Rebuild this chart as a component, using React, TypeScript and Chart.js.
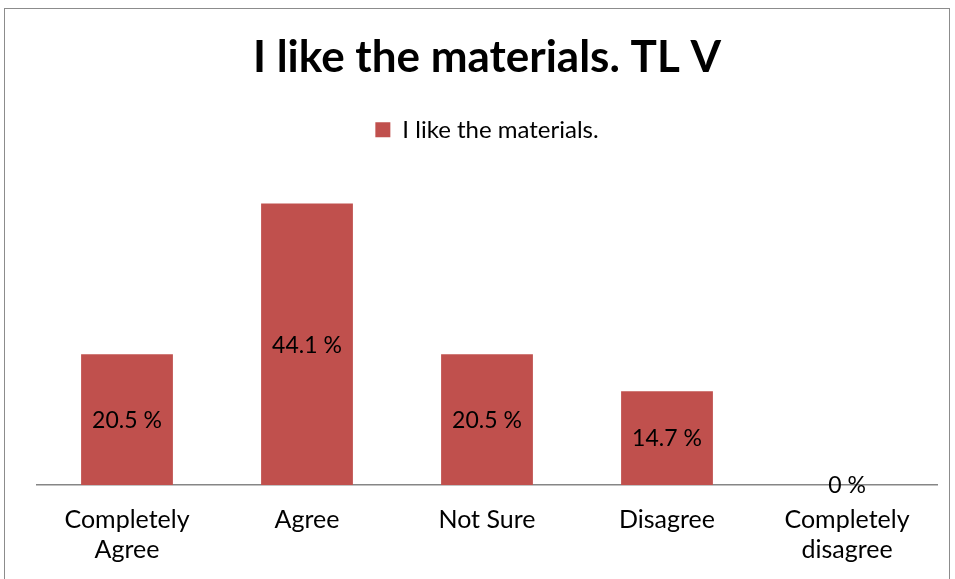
import React, { useEffect, useRef } from "react";
import { Chart, registerables } from "chart.js";
Chart.register(...registerables);

const categories: (string | string[])[] = [
  ["Completely", "Agree"],
  "Agree",
  "Not Sure",
  "Disagree",
  ["Completely", "disagree"],
];
const values = [20.5, 44.1, 20.5, 14.7, 0];
const valueLabels = ["20.5 %", "44.1 %", "20.5 %", "14.7 %", "0 %"];
const seriesName = "I like the materials.";
const chartTitle = "I like the materials. TL V";
const yMax = 50;

const FONT = "Lato, 'Open Sans', sans-serif";

const barLabels = {
  id: "barLabels",
  afterDatasetsDraw(chart: any) {
    const ctx = chart.ctx;
    const meta = chart.getDatasetMeta(0);
    ctx.save();
    ctx.font = `23px ${FONT}`;
    ctx.fillStyle = "#000";
    ctx.textAlign = "center";
    ctx.textBaseline = "middle";
    meta.data.forEach((el: any, i: number) => {
      const y = (el.y + el.base) / 2;
      ctx.fillText(valueLabels[i], el.x, y + 1);
    });
    ctx.restore();
  },
};

export default function App() {
  const ref = useRef<HTMLCanvasElement>(null);
  useEffect(() => {
    if (!ref.current) return;
    const chart = new Chart(ref.current, {
      type: "bar",
      data: {
        labels: categories as any,
        datasets: [
          {
            label: seriesName,
            data: values,
            backgroundColor: "#C0504D",
            borderWidth: 0,
            barPercentage: 0.51,
            categoryPercentage: 1,
          },
        ],
      },
      options: {
        animation: false,
        responsive: false,
        layout: { padding: { left: 37, right: 18, top: 0, bottom: 0 } },
        plugins: {
          title: {
            display: true,
            text: chartTitle,
            color: "#000",
            font: { family: FONT, size: 44, weight: "bold" },
            padding: { top: 31, bottom: 11 },
          },
          legend: {
            display: true,
            labels: {
              color: "#000",
              font: { family: FONT, size: 24 },
              boxWidth: 15,
              boxHeight: 15,
              padding: 23,
            },
          },
          tooltip: { enabled: false },
        },
        scales: {
          x: {
            grid: { display: false, drawTicks: false },
            border: { display: true, color: "#868686", width: 1.5 },
            ticks: {
              color: "#000",
              font: { family: FONT, size: 25, lineHeight: 1.2 },
              padding: 20,
              maxRotation: 0,
              autoSkip: false,
            },
            afterFit: (s: any) => {
              s.height = 94;
            },
          },
          xTopSpacer: {
            type: "category",
            position: "top",
            display: true,
            grid: { display: false, drawTicks: false },
            border: { display: false },
            ticks: { display: false },
            afterFit: (s: any) => {
              s.height = 14;
            },
          },
          y: {
            display: false,
            min: 0,
            max: yMax,
          },
        },
      },
      plugins: [barLabels],
    });
    return () => chart.destroy();
  }, []);
  return (
    <div style={{ position: "fixed", left: 0, top: 0, width: 955, height: 579, background: "#fff", overflow: "hidden" }}>
      <div
        style={{
          position: "absolute",
          left: 4,
          top: 8,
          width: 946,
          height: 600,
          border: "1.5px solid #8c8c8c",
          boxSizing: "border-box",
        }}
      />
      <canvas ref={ref} width={955} height={579} style={{ position: "absolute", left: 0, top: 0 }} />
    </div>
  );
}
